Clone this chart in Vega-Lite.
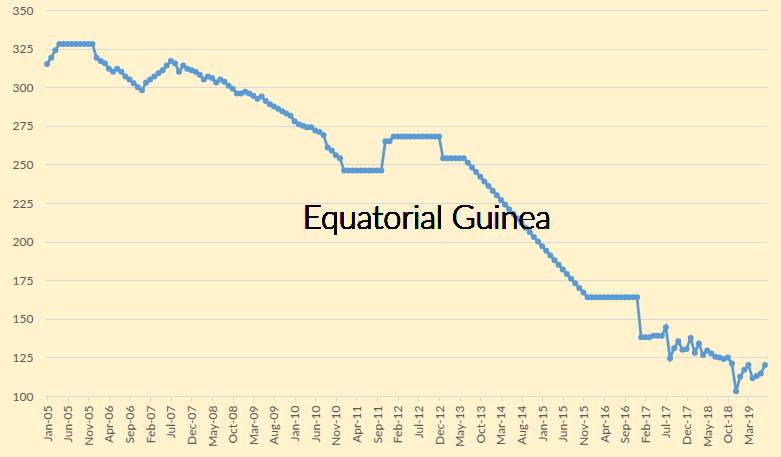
{
  "$schema": "https://vega.github.io/schema/vega-lite/v6.json",
  "width": 722,
  "height": 386,
  "autosize": "none",
  "padding": {"left": 45, "top": 10, "right": 14, "bottom": 61},
  "background": "#FFF2CC",
  "config": {
    "view": {"stroke": null},
    "font": "Lato",
    "axis": {"labelFont": "Lato", "labelColor": "#595959", "labelFontSize": 12, "title": null}
  },
  "data": {"values": [
    {"m":"Jan-05","v":315},{"m":"Feb-05","v":319},{"m":"Mar-05","v":324},{"m":"Apr-05","v":328},{"m":"May-05","v":328},{"m":"Jun-05","v":328},{"m":"Jul-05","v":328},{"m":"Aug-05","v":328},{"m":"Sep-05","v":328},{"m":"Oct-05","v":328},{"m":"Nov-05","v":328},{"m":"Dec-05","v":328},
    {"m":"Jan-06","v":319},{"m":"Feb-06","v":317},{"m":"Mar-06","v":315.5},{"m":"Apr-06","v":312},{"m":"May-06","v":310},{"m":"Jun-06","v":312},{"m":"Jul-06","v":310},{"m":"Aug-06","v":307},{"m":"Sep-06","v":305},{"m":"Oct-06","v":302.5},{"m":"Nov-06","v":300},{"m":"Dec-06","v":298},
    {"m":"Jan-07","v":303},{"m":"Feb-07","v":305},{"m":"Mar-07","v":307},{"m":"Apr-07","v":309},{"m":"May-07","v":311},{"m":"Jun-07","v":314},{"m":"Jul-07","v":317},{"m":"Aug-07","v":315.5},{"m":"Sep-07","v":310},{"m":"Oct-07","v":314},{"m":"Nov-07","v":312},{"m":"Dec-07","v":311},
    {"m":"Jan-08","v":310},{"m":"Feb-08","v":308},{"m":"Mar-08","v":305},{"m":"Apr-08","v":307},{"m":"May-08","v":306},{"m":"Jun-08","v":303},{"m":"Jul-08","v":305},{"m":"Aug-08","v":303.5},{"m":"Sep-08","v":301},{"m":"Oct-08","v":299},{"m":"Nov-08","v":296},{"m":"Dec-08","v":296},
    {"m":"Jan-09","v":297},{"m":"Feb-09","v":296},{"m":"Mar-09","v":294.5},{"m":"Apr-09","v":292.5},{"m":"May-09","v":294},{"m":"Jun-09","v":291},{"m":"Jul-09","v":289},{"m":"Aug-09","v":287.5},{"m":"Sep-09","v":286},{"m":"Oct-09","v":284.5},{"m":"Nov-09","v":283},{"m":"Dec-09","v":281.5},
    {"m":"Jan-10","v":278},{"m":"Feb-10","v":276},{"m":"Mar-10","v":275},{"m":"Apr-10","v":274},{"m":"May-10","v":274},{"m":"Jun-10","v":272},{"m":"Jul-10","v":271},{"m":"Aug-10","v":269},{"m":"Sep-10","v":261},{"m":"Oct-10","v":259},{"m":"Nov-10","v":256},{"m":"Dec-10","v":254},
    {"m":"Jan-11","v":246},{"m":"Feb-11","v":246},{"m":"Mar-11","v":246},{"m":"Apr-11","v":246},{"m":"May-11","v":246},{"m":"Jun-11","v":246},{"m":"Jul-11","v":246},{"m":"Aug-11","v":246},{"m":"Sep-11","v":246},{"m":"Oct-11","v":246},{"m":"Nov-11","v":265},{"m":"Dec-11","v":265},
    {"m":"Jan-12","v":268},{"m":"Feb-12","v":268},{"m":"Mar-12","v":268},{"m":"Apr-12","v":268},{"m":"May-12","v":268},{"m":"Jun-12","v":268},{"m":"Jul-12","v":268},{"m":"Aug-12","v":268},{"m":"Sep-12","v":268},{"m":"Oct-12","v":268},{"m":"Nov-12","v":268},{"m":"Dec-12","v":268},
    {"m":"Jan-13","v":254},{"m":"Feb-13","v":254},{"m":"Mar-13","v":254},{"m":"Apr-13","v":254},{"m":"May-13","v":254},{"m":"Jun-13","v":254},{"m":"Jul-13","v":251},{"m":"Aug-13","v":248},{"m":"Sep-13","v":245},{"m":"Oct-13","v":242},{"m":"Nov-13","v":239},{"m":"Dec-13","v":236},
    {"m":"Jan-14","v":233},{"m":"Feb-14","v":230},{"m":"Mar-14","v":227},{"m":"Apr-14","v":224},{"m":"May-14","v":221},{"m":"Jun-14","v":218},{"m":"Jul-14","v":215},{"m":"Aug-14","v":212},{"m":"Sep-14","v":209},{"m":"Oct-14","v":206},{"m":"Nov-14","v":203},{"m":"Dec-14","v":200},
    {"m":"Jan-15","v":197},{"m":"Feb-15","v":194},{"m":"Mar-15","v":191},{"m":"Apr-15","v":188},{"m":"May-15","v":185},{"m":"Jun-15","v":182},{"m":"Jul-15","v":179},{"m":"Aug-15","v":176},{"m":"Sep-15","v":173},{"m":"Oct-15","v":170},{"m":"Nov-15","v":167},{"m":"Dec-15","v":164},
    {"m":"Jan-16","v":164},{"m":"Feb-16","v":164},{"m":"Mar-16","v":164},{"m":"Apr-16","v":164},{"m":"May-16","v":164},{"m":"Jun-16","v":164},{"m":"Jul-16","v":164},{"m":"Aug-16","v":164},{"m":"Sep-16","v":164},{"m":"Oct-16","v":164},{"m":"Nov-16","v":164},{"m":"Dec-16","v":164},
    {"m":"Jan-17","v":138},{"m":"Feb-17","v":138},{"m":"Mar-17","v":138},{"m":"Apr-17","v":139},{"m":"May-17","v":139},{"m":"Jun-17","v":139},{"m":"Jul-17","v":144.5},{"m":"Aug-17","v":124.5},{"m":"Sep-17","v":131},{"m":"Oct-17","v":135.5},{"m":"Nov-17","v":130},{"m":"Dec-17","v":130.5},
    {"m":"Jan-18","v":137.5},{"m":"Feb-18","v":128},{"m":"Mar-18","v":134},{"m":"Apr-18","v":126.5},{"m":"May-18","v":129.5},{"m":"Jun-18","v":127.5},{"m":"Jul-18","v":125.5},{"m":"Aug-18","v":125},{"m":"Sep-18","v":124},{"m":"Oct-18","v":125},{"m":"Nov-18","v":121},{"m":"Dec-18","v":103},
    {"m":"Jan-19","v":112.5},{"m":"Feb-19","v":117},{"m":"Mar-19","v":120},{"m":"Apr-19","v":111.5},{"m":"May-19","v":113},{"m":"Jun-19","v":114.5},{"m":"Jul-19","v":120}
  ]},
  "encoding": {
    "x": {
      "field": "m", "type": "ordinal", "sort": null,
      "scale": {"type": "point", "padding": 0.5},
      "axis": {
        "values": ["Jan-05","Jun-05","Nov-05","Apr-06","Sep-06","Feb-07","Jul-07","Dec-07","May-08","Oct-08","Mar-09","Aug-09","Jan-10","Jun-10","Nov-10","Apr-11","Sep-11","Feb-12","Jul-12","Dec-12","May-13","Oct-13","Mar-14","Aug-14","Jan-15","Jun-15","Nov-15","Apr-16","Sep-16","Feb-17","Jul-17","Dec-17","May-18","Oct-18","Mar-19"],
        "labelAngle": -90, "labelAlign": "right", "labelBaseline": "middle", "labelPadding": 4,
        "domainColor": "#D9D9D9", "tickColor": "#D9D9D9", "tickSize": 5, "grid": false
      }
    },
    "y": {
      "field": "v", "type": "quantitative",
      "scale": {"domain": [100, 350], "nice": false, "zero": false},
      "axis": {"values": [100,125,150,175,200,225,250,275,300,325,350], "grid": true, "gridColor": "#D9D9D9", "domain": false, "ticks": false, "labelPadding": 12}
    }
  },
  "layer": [
    {"mark": {"type": "line", "color": "#5B9BD5", "strokeWidth": 2.75, "point": {"filled": true, "size": 36, "color": "#5B9BD5", "opacity": 1}}},
    {"mark": {"type": "text", "text": "Equatorial Guinea", "align": "left", "baseline": "alphabetic", "fontSize": 32.5, "fontWeight": 300, "font": "Lato", "color": "#000000"},
     "encoding": {"x": {"datum": "Mar-10"}, "y": {"datum": 208}}}
  ]
}
